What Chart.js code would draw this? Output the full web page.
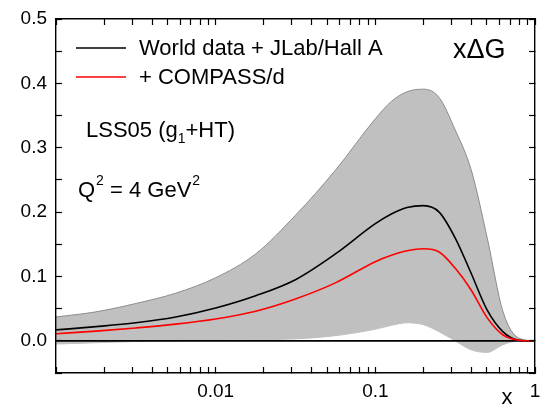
<!DOCTYPE html>
<html>
<head>
<meta charset="utf-8">
<script src="https://cdn.jsdelivr.net/npm/chart.js@4.4.1/dist/chart.umd.min.js"></script>
<style>
  html, body { margin: 0; padding: 0; background: #fff; }
  canvas { display: block; }
</style>
</head>
<body>
<canvas id="chart" width="545" height="406"></canvas>
<script>
// x values (log scale) where the curves were read
const xVals = [0.001, 0.00178, 0.00316, 0.00562, 0.01, 0.0178, 0.0316, 0.0562, 0.1,
  0.126, 0.158, 0.2, 0.251, 0.316, 0.398, 0.501, 0.631, 0.794, 1];
// World data + JLab/Hall A (black)
const worldData = [0.017, 0.022, 0.028, 0.037, 0.051, 0.070, 0.095, 0.135, 0.182,
  0.197, 0.207, 0.210, 0.200, 0.160, 0.105, 0.048, 0.014, 0.001, 0];
// + COMPASS/d (red)
const compassData = [0.011, 0.015, 0.020, 0.026, 0.034, 0.046, 0.065, 0.090, 0.123,
  0.133, 0.140, 0.143, 0.138, 0.113, 0.079, 0.036, 0.009, 0.001, 0];
// error band
const bandUpper = [0.037, 0.045, 0.058, 0.074, 0.098, 0.135, 0.195, 0.265, 0.345,
  0.372, 0.387, 0.391, 0.378, 0.328, 0.266, 0.161, 0.045, 0.004, 0];
const bandLower = [-0.005, -0.003, -0.001, 0, 0.001, 0.002, 0.003, 0.008, 0.018,
  0.024, 0.028, 0.025, 0.014, 0.0, -0.014, -0.018, -0.006, 0.0, 0];

const seriesLabels = ['World data + JLab/Hall A', '+ COMPASS/d'];
// tick marks (all) and the labelled ones
const xAxisTicks = [0.001, 0.002, 0.003, 0.004, 0.005, 0.006, 0.007, 0.008, 0.009,
  0.01, 0.02, 0.03, 0.04, 0.05, 0.06, 0.07, 0.08, 0.09,
  0.1, 0.2, 0.3, 0.4, 0.5, 0.6, 0.7, 0.8, 0.9, 1];
const xTickVals = [0.01, 0.1, 1];
const xTickLabels = ['0.01', '0.1', '1'];
const yAxisTicks = [-0.05, 0, 0.05, 0.1, 0.15, 0.2, 0.25, 0.3, 0.35, 0.4, 0.45, 0.5];
const yTickVals = [0, 0.1, 0.2, 0.3, 0.4, 0.5];

const FONT = '"Liberation Sans", Arial, sans-serif';

function pts(ys) { return xVals.map((x, i) => ({ x: x, y: ys[i] })); }

// legende + annotations
const textPlugin = {
  id: 'annot',
  afterDraw(chart) {
    const c = chart.ctx;
    c.save();
    c.lineWidth = 1.5;
    c.strokeStyle = '#000';
    c.beginPath(); c.moveTo(76, 48); c.lineTo(126, 48); c.stroke();
    c.strokeStyle = '#ff0000';
    c.beginPath(); c.moveTo(76, 77); c.lineTo(126, 77); c.stroke();
    c.fillStyle = '#000';
    c.textBaseline = 'middle';
    c.textAlign = 'left';
    c.font = '22px ' + FONT;
    c.fillText(seriesLabels[0], 139, 49);
    c.fillText(seriesLabels[1], 139, 78);

    // LSS05 (g1+HT)
    let x = 86;
    c.fillText('LSS05 (g', x, 131); x += c.measureText('LSS05 (g').width;
    c.font = '14px ' + FONT;
    c.fillText('1', x, 139); x += c.measureText('1').width;
    c.font = '22px ' + FONT;
    c.fillText('+HT)', x, 131);

    // Q2 = 4 GeV2
    x = 78;
    c.fillText('Q', x, 191); x += c.measureText('Q').width + 1;
    c.font = '14px ' + FONT;
    c.fillText('2', x, 181); x += c.measureText('2').width;
    c.font = '22px ' + FONT;
    c.fillText(' = 4 GeV', x, 191); x += c.measureText(' = 4 GeV').width + 1;
    c.font = '14px ' + FONT;
    c.fillText('2', x, 181);

    // xΔG
    c.font = '27px ' + FONT;
    c.fillText('x\u0394G', 453, 51);

    // titre axe x
    c.font = '22px ' + FONT;
    c.textAlign = 'center';
    c.fillText('x', 507, 398);
    c.restore();
  }
};

// ticks vers l'interieur (tickLength negatif)
const tickGrid = { display: true, drawOnChartArea: false, drawTicks: true, tickLength: -6,
  tickColor: '#000', tickWidth: 1.2, color: '#000', z: 1 };
const axisBorder = { display: true, color: '#000', width: 1.4, z: 1 };

const ctx = document.getElementById('chart').getContext('2d');
const chart = new Chart(ctx, {
  type: 'line',
  data: {
    datasets: [
      {
        label: 'upper',
        data: pts(bandUpper),
        xAxisID: 'x', yAxisID: 'y',
        borderColor: '#8c8c8c',
        borderWidth: 1,
        backgroundColor: '#c0c0c0',
        fill: '+1',
        pointRadius: 0,
        order: 10,
        cubicInterpolationMode: 'monotone'
      },
      {
        label: 'lower',
        data: pts(bandLower),
        xAxisID: 'x', yAxisID: 'y',
        borderColor: '#c0c0c0',
        borderWidth: 1,
        fill: false,
        pointRadius: 0,
        order: 9,
        cubicInterpolationMode: 'monotone'
      },
      {
        label: 'zero',
        data: [{ x: 0.001, y: 0 }, { x: 1, y: 0 }],
        xAxisID: 'x', yAxisID: 'y',
        borderColor: '#000',
        borderWidth: 1.8,
        fill: false,
        pointRadius: 0,
        order: 3
      },
      {
        label: seriesLabels[0],
        data: pts(worldData),
        xAxisID: 'x', yAxisID: 'y',
        borderColor: '#000',
        borderWidth: 1.6,
        fill: false,
        pointRadius: 0,
        order: 2,
        cubicInterpolationMode: 'monotone'
      },
      {
        label: seriesLabels[1],
        data: pts(compassData),
        xAxisID: 'x', yAxisID: 'y',
        borderColor: '#ff0000',
        borderWidth: 1.6,
        fill: false,
        pointRadius: 0,
        order: 1,
        cubicInterpolationMode: 'monotone'
      }
    ]
  },
  options: {
    responsive: false,
    animation: false,
    devicePixelRatio: 1,
    layout: { padding: 0 },
    plugins: { legend: { display: false }, tooltip: { enabled: false } },
    scales: {
      x: {
        type: 'logarithmic',
        position: 'bottom',
        min: 0.001,
        max: 1,
        grid: tickGrid,
        border: axisBorder,
        afterBuildTicks(s) { s.ticks = xAxisTicks.map(v => ({ value: v })); },
        afterFit(s) { s.height = 33; s.paddingLeft = 0; s.paddingRight = 0; },
        ticks: {
          color: '#000',
          padding: 13,
          maxRotation: 0,
          autoSkip: false,
          font: { family: FONT, size: 19 },
          callback(v) { const i = xTickVals.indexOf(v); return i >= 0 ? xTickLabels[i] : ''; }
        }
      },
      y: {
        type: 'linear',
        position: 'left',
        min: -0.05,
        max: 0.5,
        grid: tickGrid,
        border: axisBorder,
        afterBuildTicks(s) { s.ticks = yAxisTicks.map(v => ({ value: v })); },
        afterFit(s) { s.width = 56; s.paddingTop = 0; s.paddingBottom = 0; },
        ticks: {
          color: '#000',
          padding: 15,
          autoSkip: false,
          font: { family: FONT, size: 19 },
          callback(v) { return yTickVals.indexOf(v) >= 0 ? v.toFixed(1) : ''; }
        }
      },
      // axes miroirs : haut et droite, juste pour le cadre et les ticks
      x2: {
        type: 'logarithmic',
        position: 'top',
        min: 0.001,
        max: 1,
        grid: tickGrid,
        border: axisBorder,
        afterBuildTicks(s) { s.ticks = xAxisTicks.map(v => ({ value: v })); },
        afterFit(s) { s.height = 19; s.paddingLeft = 0; s.paddingRight = 0; },
        ticks: { display: true, autoSkip: false, maxRotation: 0, callback() { return ''; } }
      },
      y2: {
        type: 'linear',
        position: 'right',
        min: -0.05,
        max: 0.5,
        grid: tickGrid,
        border: axisBorder,
        afterBuildTicks(s) { s.ticks = yAxisTicks.map(v => ({ value: v })); },
        afterFit(s) { s.width = 10; s.paddingTop = 0; s.paddingBottom = 0; },
        ticks: { display: true, autoSkip: false, callback() { return ''; } }
      }
    }
  },
  plugins: [textPlugin]
});
</script>
</body>
</html>
